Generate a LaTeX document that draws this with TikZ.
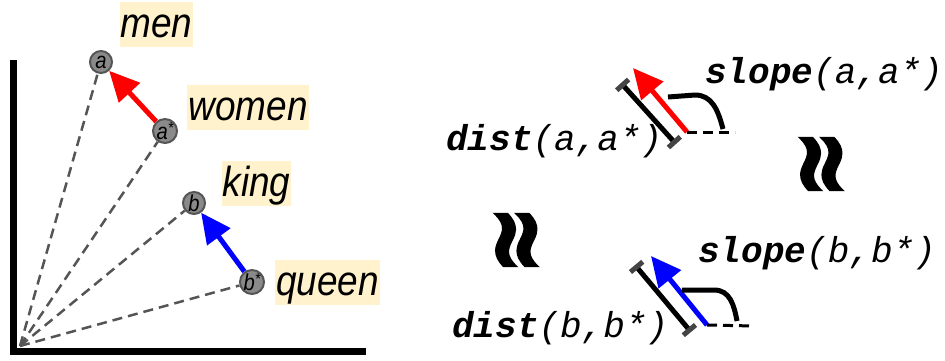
\documentclass[tikz,border=0pt]{standalone}
\usepackage{fontspec}
\usetikzlibrary{arrows.meta,calc}
\newfontfamily\labfont[FakeStretch=0.88]{Liberation Sans}
\newfontfamily\codefont{Liberation Mono}
\newfontfamily\symfont[FakeBold=2]{DejaVu Sans}
\definecolor{labbg}{HTML}{FFF2CC}
\definecolor{dotfill}{HTML}{8A8A8A}
\definecolor{dotdraw}{HTML}{555555}
\definecolor{dashgray}{HTML}{555555}
\definecolor{capgray}{HTML}{444444}
\tikzset{
  word/.style={fill=labbg, font=\labfont\itshape\fontsize{42}{46}\selectfont, inner xsep=1pt, inner ysep=2pt, text height=33pt, text depth=8pt},
  dot/.style={circle, fill=dotfill, draw=dotdraw, line width=2pt, minimum size=22pt, inner sep=0pt, font=\labfont\itshape\fontsize{23}{23}\selectfont},
  ray/.style={dashgray, line width=2.5pt, dash pattern=on 10pt off 6pt},
  axis/.style={line width=7pt, line cap=butt},
  vecarrow/.style={line width=5pt, -{Triangle[length=30pt,width=28pt]}},
  measure/.style={line width=5pt, {Bar[width=16pt,line width=5pt,color=capgray]}-{Bar[width=16pt,line width=5pt,color=capgray]}},
  baseline/.style={line width=3pt, dash pattern=on 10pt off 6pt},
  anglearc/.style={line width=5pt},
  codetext/.style={font=\codefont\fontsize{36}{40}\selectfont, inner sep=0pt, anchor=base west},
  approx/.style={font=\symfont\bfseries\fontsize{84}{84}\selectfont, rotate=90, inner sep=0pt, yscale=1.25}
}
\begin{document}
\begin{tikzpicture}[x=1pt,y=-1pt]
\useasboundingbox (0,0) rectangle (945,360);
% axes
\coordinate (Otop) at (13.5,60);
\coordinate (O) at (13.5,351);
\coordinate (Oright) at (366,351);
\draw[axis] (Otop) -- ($(O)+(0,3.5)$);
\draw[axis] ($(O)+(-3.5,0)$) -- (Oright);
\coordinate (origin) at (20,346);
% points
\node[dot] (a) at (101,62) {a};
\node[dot] (as) at (165,131) {a\raisebox{6pt}{\fontsize{16}{16}\selectfont*}};
\node[dot] (b) at (194,203) {b};
\node[dot] (bs) at (252,282) {b\raisebox{6pt}{\fontsize{16}{16}\selectfont*}};
\foreach \p in {a,as,b,bs}{\draw[ray] (origin) -- (\p);}
\draw[vecarrow, red] (as) -- (a);
\draw[vecarrow, blue] (bs) -- (b);
% words
\node[word] (wmen) at (156.5,24.5) {men};
\node[word] (wwomen) at (248,107.5) {women};
\node[word] (wking) at (256.5,183.5) {king};
\node[word] (wqueen) at (327.5,282.5) {queen};
% top measure group
\coordinate (m1a) at (621,83);
\coordinate (m1b) at (676,144);
\draw[measure] (m1a) -- (m1b);
\coordinate (v1s) at (687,132);
\coordinate (v1t) at (633,68);
\draw[vecarrow, red] (v1s) -- (v1t);
\coordinate (h1e) at (735,132);
\draw[baseline] (v1s) -- (h1e);
\coordinate (c1a) at (668,97);
\coordinate (c1b) at (723,129);
\draw[anglearc] (c1a) -- (695,95) .. controls (712,95) and (718,110) .. (c1b);
\node[codetext] (s1) at (705,83) {\textbf{\textit{slope}}\textit{(a,a*)}};
\node[codetext] (d1) at (446,150) {\textbf{\textit{dist}}\textit{(a,a*)}};
% bottom measure group
\coordinate (m2a) at (635,265);
\coordinate (m2b) at (691,332);
\draw[measure] (m2a) -- (m2b);
\coordinate (v2s) at (707,325);
\coordinate (v2t) at (651,256);
\draw[vecarrow, blue] (v2s) -- (v2t);
\coordinate (h2e) at (754,326);
\draw[baseline] (v2s) -- (h2e);
\coordinate (c2a) at (682,290);
\coordinate (c2b) at (737,321);
\draw[anglearc] (c2a) -- (714,290) .. controls (730,290) and (734,305) .. (c2b);
\node[codetext] (s2) at (698,262) {\textbf{\textit{slope}}\textit{(b,b*)}};
\node[codetext] (d2) at (452,337) {\textbf{\textit{dist}}\textit{(b,b*)}};
% approx signs
\node[approx] (ap1) at (827,164) {≈};
\node[approx] (ap2) at (522,240) {≈};
\end{tikzpicture}
\end{document}
